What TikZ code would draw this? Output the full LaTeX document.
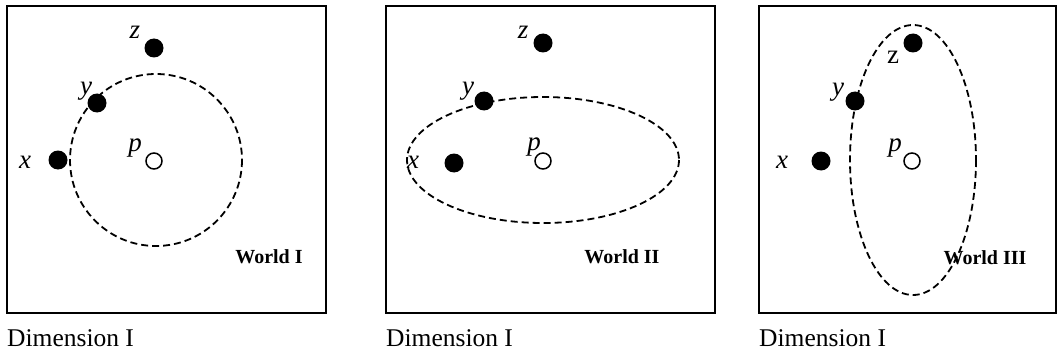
\documentclass[tikz,border=0pt]{standalone}
\usepackage{fontspec}
\setmainfont{Liberation Serif}
\tikzset{
  frame/.style={draw=black,line width=1.8pt},
  region/.style={draw=black,line width=1.8pt,dash pattern=on 7pt off 4pt},
  dot/.style={circle,fill=black,inner sep=0pt,minimum size=19pt},
  hollow/.style={circle,draw=black,line width=1.5pt,fill=white,inner sep=0pt,minimum size=16pt},
  var/.style={inner sep=0pt,font=\fontsize{27}{30}\selectfont\itshape},
  world/.style={inner sep=0pt,font=\fontsize{20}{22}\selectfont\bfseries},
  dimlbl/.style={inner sep=0pt,anchor=base west,font=\fontsize{25.5}{28}\selectfont}
}
\begin{document}
\begin{tikzpicture}[x=1pt,y=-1pt]
        \useasboundingbox (0,0) rectangle (1058,353);
        \foreach \l/\r [count=\i] in {7/326,386/715,759/1056} {
                \draw[frame] (\l,6) rectangle (\r,313);
                \node[dimlbl] (dim\i) at (\l,346) {Dimension I};
        }
        % regions
        \draw[region] (156,160) circle (86);
        \draw[region] (543,160) ellipse [x radius=136, y radius=63];
        \draw[region] (913,160) ellipse [x radius=63, y radius=135];
        % world I
        \node[dot] (x1) at (58,160) {};
        \node[dot] (y1) at (97,103) {};
        \node[dot] (z1) at (154,48) {};
        \node[hollow] (p1) at (154,161) {};
        \node[var] (xl1) at (25,162) {x};
        \node[var] (yl1) at (86,91) {y};
        \node[var] (zl1) at (135,32) {z};
        \node[var] (pl1) at (135,148) {p};
        \node[world] (w1) at (269,257) {World I};
        % world II
        \node[dot] (x2) at (454,163) {};
        \node[dot] (y2) at (484,101) {};
        \node[dot] (z2) at (543,43) {};
        \node[hollow] (p2) at (543,161) {};
        \node[var] (xl2) at (413,162) {x};
        \node[var] (yl2) at (468,91) {y};
        \node[var] (zl2) at (523,32) {z};
        \node[var] (pl2) at (534,147) {p};
        \node[world] (w2) at (622,257) {World II};
        % world III
        \node[dot] (x3) at (821,161) {};
        \node[dot] (y3) at (855,101) {};
        \node[dot] (z3) at (913,43) {};
        \node[hollow] (p3) at (912,161) {};
        \node[var] (xl3) at (782,162) {x};
        \node[var] (yl3) at (838,92) {y};
        \node[var,font=\fontsize{27}{30}\selectfont] (zl3) at (893,57) {z};
        \node[var] (pl3) at (895,148) {p};
        \node[world] (w3) at (985,258) {World III};
\end{tikzpicture}
\end{document}
